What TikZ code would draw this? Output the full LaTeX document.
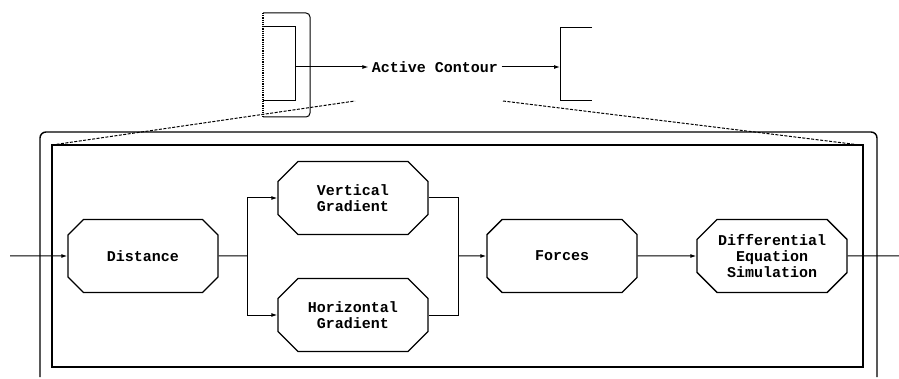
\documentclass[tikz,border=0pt]{standalone}
\usepackage{fontspec}
\setmonofont{Liberation Mono}
\usepackage{tikz}
\usetikzlibrary{arrows.meta,shapes.misc}
\tikzset{
  blk/.style={draw, chamfered rectangle, chamfered rectangle xsep=10pt, chamfered rectangle ysep=10pt,
    minimum width=150pt, minimum height=73pt, inner sep=0pt, align=center, line width=1.4pt},
  arr/.style={-{Latex[length=6pt,width=4pt]}, line width=1pt},
  wire/.style={line width=1pt},
  zoomline/.style={dashed, dash pattern=on 3pt off 1.5pt, line width=1pt}
}

\begin{document}
\begin{tikzpicture}[x=1pt, y=-1pt, font=\fontsize{15}{16}\selectfont\ttfamily\bfseries]
\useasboundingbox (0,0) rectangle (899,379);
% top level
\draw[wire, rounded corners=4pt] (263,13) -- (310,13) -- (310,117) -- (263,117);
\draw[densely dotted, line width=1.2pt] (263,13) -- (263,117);
\draw[wire] (263,27) -- (295,27) -- (295,101) -- (263,101);
\draw[wire] (592,28) -- (560,28) -- (560,101) -- (592,101);
\node (ac) at (435,67) {Active Contour};
\coordinate (lb) at (295,67);
\coordinate (rb) at (560,67);
\draw[arr] (lb) -- (ac.west);
\draw[arr] (ac.east) -- (rb);
% expanded view
\draw[line width=1.4pt, rounded corners=6pt] (40,377) -- (40,132) -- (877,132) -- (877,377);
\draw[line width=2pt] (52,145) rectangle (863,367);
\coordinate (zl) at (355,101);
\coordinate (zr) at (503,101);
\draw[zoomline] (52,145) -- (zl);
\draw[zoomline] (zr) -- (860,145);
\node[blk] (dist) at (143,256) {Distance};
\node[blk] (vgrad) at (353,198) {Vertical\\Gradient};
\node[blk] (hgrad) at (353,315) {Horizontal\\Gradient};
\node[blk] (force) at (562,256) {Forces};
\node[blk] (diffeq) at (772,256) {Differential\\Equation\\Simulation};
\coordinate (in) at (10,256);
\coordinate (out) at (899,256);
\coordinate (split) at (247,256);
\coordinate (join) at (458,256);
\draw[arr] (in) -- (dist);
\draw[wire] (dist) -- (split);
\draw[arr] (split) |- (vgrad.west);
\draw[arr] (split) |- (hgrad.west);
\draw[wire] (vgrad.east) -| (join);
\draw[wire] (hgrad.east) -| (join);
\draw[arr] (join) -- (force);
\draw[arr] (force) -- (diffeq);
\draw[wire] (diffeq) -- (out);
\end{tikzpicture}
\end{document}
